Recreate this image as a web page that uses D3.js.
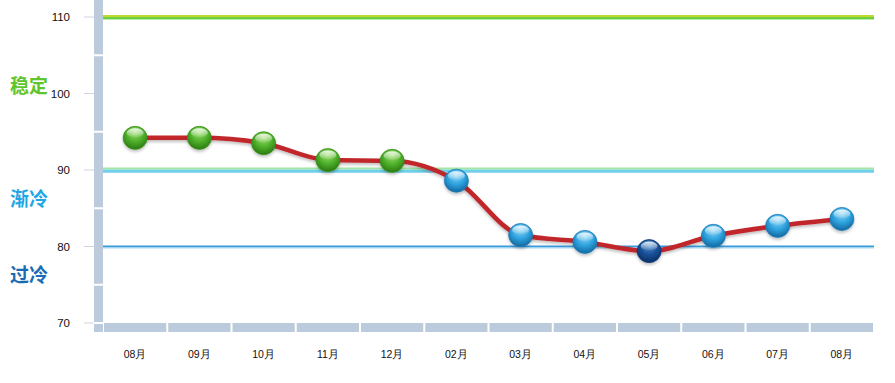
<!DOCTYPE html>
<html>
<head>
<meta charset="utf-8">
<script src="https://cdn.jsdelivr.net/npm/d3@7"></script>
<style>
  body { margin: 0; background: #fff; }
  svg { display: block; font-family: "Liberation Sans", Arial, sans-serif; }
</style>
</head>
<body>
<div id="chart"></div>
<script>
// Data
const months = ['08月', '09月', '10月', '11月', '12月', '02月', '03月', '04月', '05月', '06月', '07月', '08月'];
const values = [94.2, 94.2, 93.5, 91.3, 91.2, 88.6, 81.5, 80.6, 79.4, 81.4, 82.7, 83.6];
const yTicks = [70, 80, 90, 100, 110];
const zoneLabels = ['稳定', '渐冷', '过冷'];
const zoneLabelValues = [100.1, 85.3, 75.4];
const zoneColors = ['#5ec52e', '#1fa6e4', '#1a6bb6'];

const W = 895, H = 383;
const svg = d3.select('#chart').append('svg')
    .attr('width', W)
    .attr('height', H);

const x = d3.scaleBand()
    .domain(d3.range(months.length))
    .range([103, 874]);

const y = d3.scaleLinear()
    .domain([70, 110])
    .range([323, 17]);

const defs = svg.append('defs');

// ball gradients
function ballGradient(id, light, mid, dark) {
    const g = defs.append('radialGradient')
        .attr('id', id)
        .attr('cx', '50%').attr('cy', '35%').attr('r', '65%')
        .attr('fx', '50%').attr('fy', '25%');
    g.append('stop').attr('offset', '0%').attr('stop-color', light);
    g.append('stop').attr('offset', '55%').attr('stop-color', mid);
    g.append('stop').attr('offset', '100%').attr('stop-color', dark);
}
ballGradient('gGreen', '#9ee06a', '#4fb02c', '#2a7a10');
ballGradient('gBlue', '#8fd6f6', '#2ea3df', '#13689f');
ballGradient('gDark', '#4f8fd0', '#174f96', '#0b2f66');

const hl = defs.append('linearGradient')
    .attr('id', 'gHigh')
    .attr('x1', 0).attr('y1', 0).attr('x2', 0).attr('y2', 1);
hl.append('stop').attr('offset', '0%').attr('stop-color', '#fff').attr('stop-opacity', 0.85);
hl.append('stop').attr('offset', '100%').attr('stop-color', '#fff').attr('stop-opacity', 0.05);

const shadow = defs.append('filter').attr('id', 'shadow')
    .attr('x', '-20%').attr('y', '-20%').attr('width', '140%').attr('height', '160%');
shadow.append('feDropShadow')
    .attr('dx', 0).attr('dy', 2).attr('stdDeviation', 1.5)
    .attr('flood-color', '#000').attr('flood-opacity', 0.25);

// vertical axis bar with gaps between ticks
const barColor = '#bccbdc';
const ySeg = [[110, 105], [105, 95], [95, 85], [85, 75], [75, 70]];
svg.append('rect')
    .attr('x', 94).attr('y', 0)
    .attr('width', 9).attr('height', y(105) - 1)
    .attr('fill', barColor);
svg.selectAll('.ybar')
    .data(ySeg.slice(1))
    .enter()
    .append('rect')
    .attr('class', 'ybar')
    .attr('x', 94)
    .attr('y', d => y(d[0]) + 1)
    .attr('width', 9)
    .attr('height', d => y(d[1]) - y(d[0]) - 2)
    .attr('fill', barColor);
// corner block
svg.append('rect')
    .attr('x', 94).attr('y', 324)
    .attr('width', 9).attr('height', 8)
    .attr('fill', barColor);

// bottom axis bar segments
svg.selectAll('.xbar')
    .data(d3.range(months.length))
    .enter()
    .append('rect')
    .attr('class', 'xbar')
    .attr('x', d => x(d) + 1)
    .attr('y', 323)
    .attr('width', x.bandwidth() - 2)
    .attr('height', 9)
    .attr('fill', barColor);

// y ticks and labels
svg.selectAll('.ytick')
    .data(yTicks)
    .enter()
    .append('line')
    .attr('x1', 84).attr('x2', 94)
    .attr('y1', d => y(d)).attr('y2', d => y(d))
    .attr('stroke', '#cfd5dc')
    .attr('stroke-width', 1);

svg.selectAll('.ylabel')
    .data(yTicks)
    .enter()
    .append('text')
    .attr('x', 70)
    .attr('y', d => y(d) + 4)
    .attr('text-anchor', 'end')
    .attr('font-size', 11.5)
    .attr('fill', '#111')
    .text(d => d);

// x labels
svg.selectAll('.xlabel')
    .data(months)
    .enter()
    .append('text')
    .attr('x', (d, i) => x(i) + x.bandwidth() / 2)
    .attr('y', 358)
    .attr('text-anchor', 'middle')
    .attr('font-size', 10.5)
    .attr('fill', '#111')
    .text(d => d);

// zone labels
svg.selectAll('.zone')
    .data(zoneLabels)
    .enter()
    .append('text')
    .attr('x', 10)
    .attr('y', (d, i) => y(zoneLabelValues[i]))
    .attr('font-size', 19)
    .attr('font-weight', 'bold')
    .attr('font-family', '"Noto Sans CJK SC", sans-serif')
    .attr('fill', (d, i) => zoneColors[i])
    .text(d => d);

// threshold lines
const x0 = 103, x1 = 874;
function hline(v, dy, color, w) {
    svg.append('line')
        .attr('x1', x0).attr('x2', x1)
        .attr('y1', y(v) + dy).attr('y2', y(v) + dy)
        .attr('stroke', color)
        .attr('stroke-width', w);
}
hline(110, -1, '#c2d833', 2);
hline(110, 1, '#6cd03c', 2);
hline(110, 2.5, '#b8ecaa', 1);
hline(90, -1.5, '#a4e6a0', 2);
hline(90, 0.5, '#6fd3e6', 2);
hline(90, 2, '#2fb2e6', 1);
hline(80, 0, '#3a9bdb', 2);
hline(80, 1.5, '#a9d8f2', 1);

// data line
const line = d3.line()
    .x((d, i) => x(i) + x.bandwidth() / 2)
    .y(d => y(d))
    .curve(d3.curveMonotoneX);

svg.append('path')
    .datum(values)
    .attr('fill', 'none')
    .attr('stroke', '#c1282c')
    .attr('stroke-width', 4.5)
    .attr('stroke-linejoin', 'round')
    .attr('filter', 'url(#shadow)')
    .attr('d', line);

// balls
function ballFill(v) {
    if (v >= 90) return 'url(#gGreen)';
    if (v >= 80) return 'url(#gBlue)';
    return 'url(#gDark)';
}
function ballStroke(v) {
    if (v >= 90) return '#3a8f1c';
    if (v >= 80) return '#1d7ab8';
    return '#0d3a78';
}

const balls = svg.selectAll('.ball')
    .data(values)
    .enter()
    .append('g')
    .attr('class', 'ball')
    .attr('transform', (d, i) => `translate(${x(i) + x.bandwidth() / 2},${y(d)})`);

balls.append('ellipse')
    .attr('rx', 12).attr('ry', 11.5)
    .attr('fill', d => ballFill(d))
    .attr('stroke', d => ballStroke(d))
    .attr('stroke-width', 0.8)
    .attr('filter', 'url(#shadow)');

balls.append('ellipse')
    .attr('cx', 0).attr('cy', -5)
    .attr('rx', 8.5).attr('ry', 4.5)
    .attr('fill', 'url(#gHigh)');
</script>
</body>
</html>
